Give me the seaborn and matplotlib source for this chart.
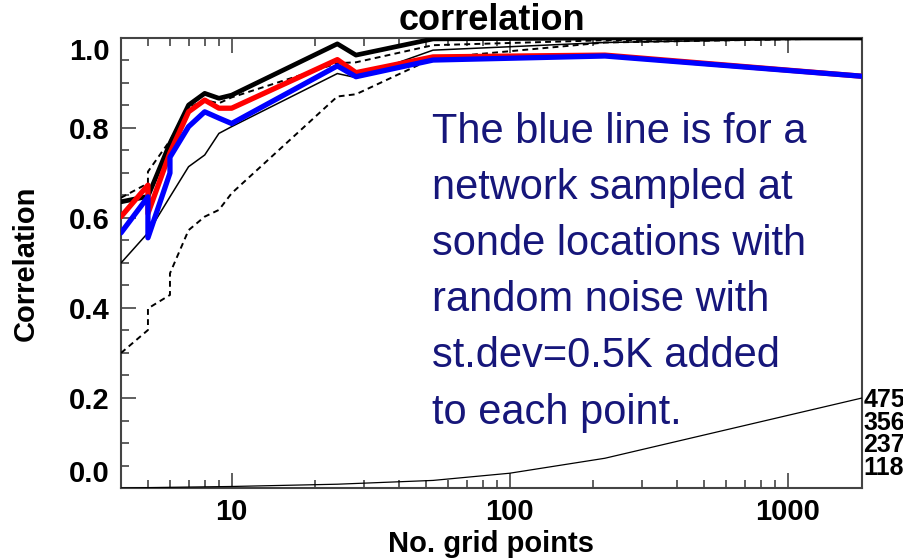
import matplotlib
matplotlib.use("Agg")
import matplotlib.pyplot as plt
import matplotlib.ticker as mticker
import seaborn as sns
import numpy as np
import pandas as pd

# ---- data ----
grid_points = [4, 5, 5, 6, 6, 7, 8, 9, 10, 24, 28, 53, 220, 1850]
black_thick = [0.636, 0.648, 0.648, 0.766, 0.766, 0.851, 0.877, 0.866, 0.873, 0.987, 0.962, 0.998, 1.0, 1.0]
upper_dashed = [0.645, 0.677, 0.703, 0.772, 0.772, 0.845, 0.862, 0.855, 0.868, 0.944, 0.946, 0.984, 0.995, 1.0]
thin_solid = [0.50, 0.567, 0.567, 0.647, 0.647, 0.714, 0.740, 0.788, 0.803, 0.921, 0.912, 0.973, 0.99, 1.0]
lower_dashed = [0.30, 0.351, 0.399, 0.429, 0.477, 0.573, 0.603, 0.618, 0.655, 0.870, 0.875, 0.955, 0.99, 1.0]
red_line = [0.603, 0.673, 0.610, 0.745, 0.745, 0.836, 0.862, 0.844, 0.844, 0.952, 0.923, 0.958, 0.962, 0.915]
blue_line = [0.567, 0.647, 0.556, 0.700, 0.735, 0.803, 0.836, 0.822, 0.810, 0.938, 0.914, 0.951, 0.960, 0.915]

count_x = [4, 10, 24, 53, 100, 220, 1850]
count_y = [0, 8, 20, 40, 78, 157, 475]

right_ticks = [118.75, 237.5, 356.25, 475]
right_labels = ["118", "237", "356", "475"]
y_ticks = [0.0, 0.2, 0.4, 0.6, 0.8, 1.0]
x_ticks = [10, 100, 1000]

title = "correlation"
xlabel = "No. grid points"
ylabel = "Correlation"
note = ("The blue line is for a\nnetwork sampled at\nsonde locations with\n"
        "random noise with\nst.dev=0.5K added\nto each point.")

sns.set_theme(style="ticks")
plt.rcParams["font.family"] = ["Liberation Sans", "DejaVu Sans"]
for k in ["text.color", "axes.labelcolor", "xtick.labelcolor", "ytick.labelcolor"]:
    plt.rcParams[k] = "black"
narrow = ["Liberation Sans Narrow", "Liberation Sans", "DejaVu Sans"]

fig = plt.figure(figsize=(9.04, 5.59), dpi=100)
ax = fig.add_axes([121/904, 1-488/559, (862-121)/904, (488-38)/559])

dash = (3.0, 2.2)
sns.lineplot(x=grid_points, y=black_thick, ax=ax, color="black", lw=3.4,
             estimator=None, sort=False, zorder=3)
sns.lineplot(x=grid_points, y=upper_dashed, ax=ax, color="black", lw=1.4,
             estimator=None, sort=False, zorder=3).lines[-1].set_dashes(dash)
sns.lineplot(x=grid_points, y=thin_solid, ax=ax, color="black", lw=1.1,
             estimator=None, sort=False, zorder=3)
sns.lineplot(x=grid_points, y=lower_dashed, ax=ax, color="black", lw=1.4,
             estimator=None, sort=False, zorder=3).lines[-1].set_dashes(dash)
sns.lineplot(x=grid_points, y=red_line, ax=ax, color="#ff0000", lw=3.8,
             estimator=None, sort=False, zorder=4)
sns.lineplot(x=grid_points, y=blue_line, ax=ax, color="#0000ff", lw=3.8,
             estimator=None, sort=False, zorder=5)

ax.set_xscale("log")
ax.set_xlim(4, 1850)
ax.set_ylim(0, 1.0)
ax.set_xticks(x_ticks)
ax.xaxis.set_major_formatter(mticker.FixedFormatter([str(v) for v in x_ticks]))
ax.xaxis.set_minor_locator(mticker.LogLocator(base=10, subs=np.arange(2, 10)))
ax.xaxis.set_minor_formatter(mticker.NullFormatter())
ax.set_yticks(y_ticks)
ax.set_yticklabels([f"{v:.1f}" for v in y_ticks])
ax.yaxis.set_minor_locator(mticker.MultipleLocator(0.05))

spine_col = "#444444"
for s in ax.spines.values():
    s.set_visible(True)
    s.set_color(spine_col)
    s.set_linewidth(1.5)
ax.tick_params(which="both", direction="in", top=True, right=True, color=spine_col, width=1.2)
ax.tick_params(which="major", length=11)
ax.tick_params(which="minor", length=6)
ax.tick_params(axis="y", labelsize=21, pad=8, labelcolor="black")
ax.tick_params(axis="x", labelsize=21, pad=7, labelcolor="black")
for lab in ax.get_yticklabels():
    lab.set_fontweight("bold")
for lab in ax.get_xticklabels():
    lab.set_fontweight("bold")
    lab.set_family(narrow)
ylabs = ax.get_yticklabels()
ylabs[0].set_va("bottom")
ylabs[-1].set_va("top")

ax.set_xlabel(xlabel, fontsize=21, fontweight="bold", family=narrow, labelpad=3, color="black")
ax.set_ylabel(ylabel, fontsize=21, fontweight="bold", family=narrow, labelpad=21, color="black")
ax.set_title(title, fontsize=26, fontweight="bold", pad=0, color="black")

# secondary count axis
ax2 = ax.twinx()
sns.lineplot(x=count_x, y=count_y, ax=ax2, color="black", lw=0.9,
             estimator=None, sort=False)
ax2.set_ylim(0, 2375)
ax2.set_yticks(right_ticks)
ax2.set_yticklabels(right_labels)
ax2.tick_params(axis="y", length=0, pad=1, labelsize=18, labelcolor="black")
for lab in ax2.get_yticklabels():
    lab.set_fontweight("bold")
    lab.set_family(narrow)
ax2.set_ylabel("")
for s in ax2.spines.values():
    s.set_visible(False)

ax.text(432/904, 1-112/559, note, transform=fig.transFigure, ha="left", va="top",
        fontsize=30, color="#16167a", linespacing=1.52)

fig.savefig("out.png", dpi=100)
